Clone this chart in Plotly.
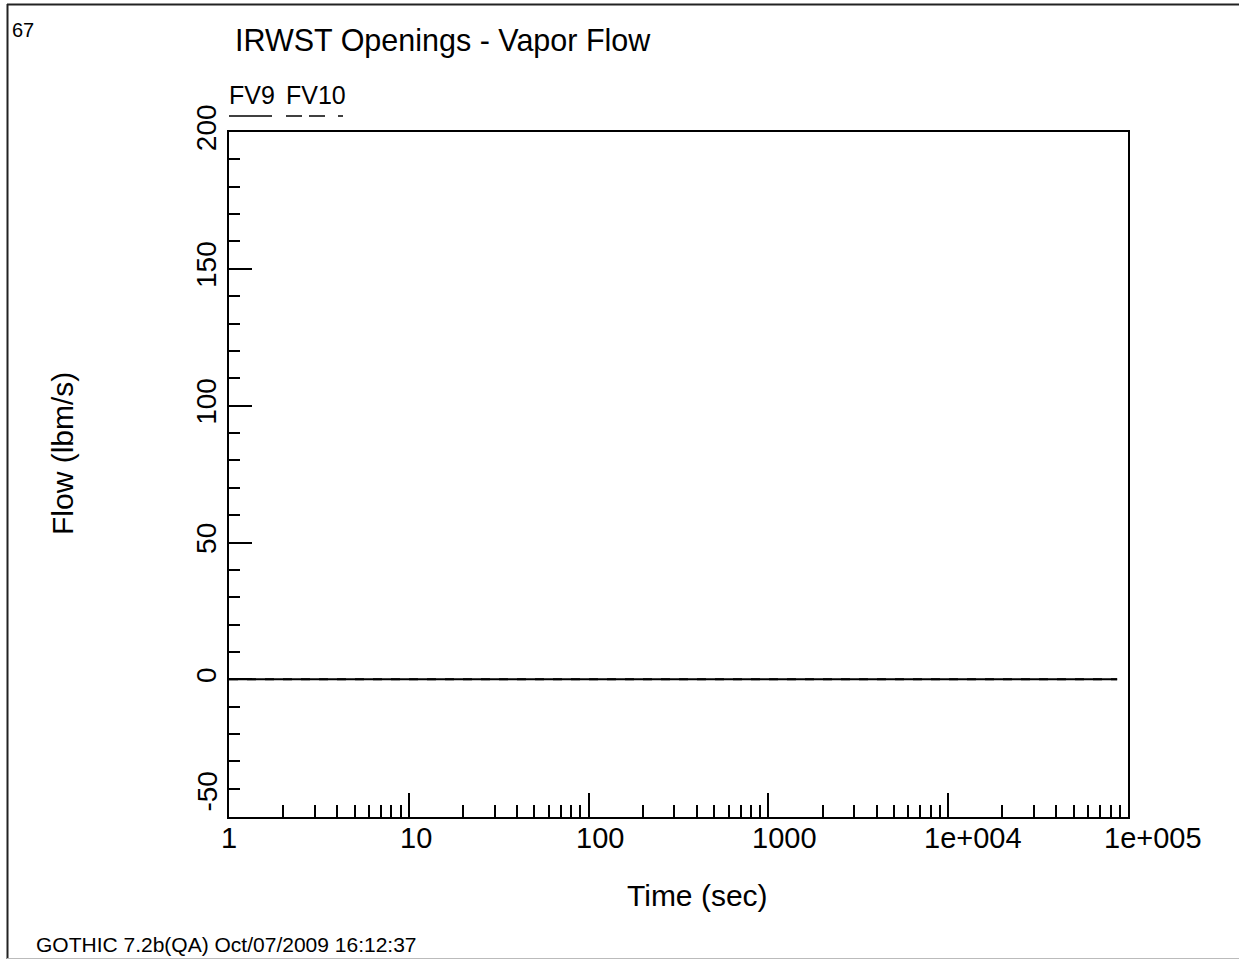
import math
import plotly.graph_objects as go

# ---- data ----
time_sec = [1, 10, 100, 1000, 10000, 87000]
fv9_flow = [0, 0, 0, 0, 0, 0]
fv10_flow = [0, 0, 0, 0, 0, 0]
series_names = ["FV9", "FV10"]
x_tick_vals = [1, 10, 100, 1000, 10000, 100000]
x_tick_text = ["1", "10", "100", "1000", "1e+004", "1e+005"]
y_tick_vals = [0, 50, 100, 150, 200]
y_tick_text = ["0", "50", "100", "150", "200"]
y_extra_label = "-50"
y_extra_label_pos = -41
page_number = "67"
footer = "GOTHIC 7.2b(QA) Oct/07/2009 16:12:37"
title_text = "IRWST Openings - Vapor Flow"
x_title = "Time (sec)"
y_title = "Flow (lbm/s)"

# style: the original plotter offsets its x tick labels to the right (px)
X_LABEL_SHIFT = [0, 7, 11, 16, 25, 25]

W, H = 1239, 959
L, R, T, B = 229, 1128, 132, 817
FONT = "Arial, Liberation Sans, Helvetica, sans-serif"


def px(x):
    return (x - L) / (R - L)


def py(y):
    return (B - y) / (B - T)


fig = go.Figure()
fig.add_trace(go.Scatter(x=time_sec, y=fv9_flow, mode="lines", name=series_names[0],
                         line=dict(color="black", width=2, dash="solid")))
fig.add_trace(go.Scatter(x=time_sec, y=fv10_flow, mode="lines", name=series_names[1],
                         line=dict(color="black", width=2, dash="dash")))

fig.update_layout(
    width=W, height=H,
    margin=dict(l=L, r=W - R, t=T, b=H - B, pad=0),
    paper_bgcolor="white", plot_bgcolor="white",
    showlegend=False,
    font=dict(family=FONT, color="black", size=28),
)

fig.update_xaxes(
    type="log", range=[0, 5],
    tickvals=x_tick_vals, ticktext=x_tick_text, showticklabels=False,
    ticks="inside", ticklen=24, tickwidth=1.5, tickcolor="black",
    minor=dict(ticks="inside", ticklen=12, tickwidth=1.5, tickcolor="black",
               dtick="D1", showgrid=False),
    showline=True, linecolor="black", linewidth=2, mirror=True,
    showgrid=False, zeroline=False,
)
fig.update_yaxes(
    range=[-50.3, 200],
    tickvals=y_tick_vals, ticktext=y_tick_text, tickangle=-90,
    ticks="inside", ticklen=23, tickwidth=1.5, tickcolor="black",
    minor=dict(ticks="inside", ticklen=11, tickwidth=1.5, tickcolor="black",
               dtick=10, showgrid=False),
    showline=True, linecolor="black", linewidth=2, mirror=True,
    showgrid=False, zeroline=False,
    tickfont=dict(size=28, family=FONT),
)

annotations = [
    dict(text=title_text, x=px(233), y=py(40), xref="paper", yref="paper",
         xanchor="left", yanchor="middle", showarrow=False, font=dict(size=30.5, family=FONT)),
    dict(text=page_number, x=px(10), y=py(30), xref="paper", yref="paper",
         xanchor="left", yanchor="middle", showarrow=False, font=dict(size=20, family=FONT)),
    dict(text=footer, x=px(34), y=py(945), xref="paper", yref="paper",
         xanchor="left", yanchor="middle", showarrow=False, font=dict(size=21, family=FONT)),
    dict(text=x_title, x=px(697), y=py(895), xref="paper", yref="paper",
         xanchor="center", yanchor="middle", showarrow=False, font=dict(size=30, family=FONT)),
    dict(text=y_title, x=px(62), y=py(454), xref="paper", yref="paper", textangle=-90,
         xanchor="center", yanchor="middle", showarrow=False, font=dict(size=30, family=FONT)),
    dict(text=y_extra_label, x=px(208), y=y_extra_label_pos, xref="paper", yref="y",
         xanchor="center", yanchor="middle", textangle=-90, showarrow=False,
         font=dict(size=28, family=FONT)),
    dict(text=series_names[0], x=px(227), y=py(95), xref="paper", yref="paper",
         xanchor="left", yanchor="middle", showarrow=False, font=dict(size=25, family=FONT)),
    dict(text=series_names[1], x=px(284), y=py(95), xref="paper", yref="paper",
         xanchor="left", yanchor="middle", showarrow=False, font=dict(size=25, family=FONT)),
]
for v, t, s in zip(x_tick_vals, x_tick_text, X_LABEL_SHIFT):
    annotations.append(dict(text=t, x=math.log10(v), y=py(838), xref="x", yref="paper",
                            xanchor="center", yanchor="middle", xshift=s, showarrow=False,
                            font=dict(size=29, family=FONT)))

shapes = [
    dict(type="line", xref="paper", yref="paper", x0=px(229), x1=px(272), y0=py(116), y1=py(116),
         line=dict(color="black", width=1.5)),
    # dashed legend sample for FV10
    dict(type="line", xref="paper", yref="paper", x0=px(286), x1=px(302), y0=py(116), y1=py(116),
         line=dict(color="black", width=1.5)),
    dict(type="line", xref="paper", yref="paper", x0=px(309), x1=px(325), y0=py(116), y1=py(116),
         line=dict(color="black", width=1.5)),
    dict(type="line", xref="paper", yref="paper", x0=px(338), x1=px(343), y0=py(116), y1=py(116),
         line=dict(color="black", width=1.5)),
    # outer page frame
    dict(type="line", xref="paper", yref="paper", x0=px(7), x1=px(1239), y0=py(4.5), y1=py(4.5),
         line=dict(color="#222", width=2)),
    dict(type="line", xref="paper", yref="paper", x0=px(7.5), x1=px(7.5), y0=py(4), y1=py(959),
         line=dict(color="#222", width=2)),
    dict(type="line", xref="paper", yref="paper", x0=px(7), x1=px(1239), y0=py(958.5), y1=py(958.5),
         line=dict(color="#bbb", width=1)),
]

fig.update_layout(annotations=annotations, shapes=shapes)
fig.write_html("out.html")
